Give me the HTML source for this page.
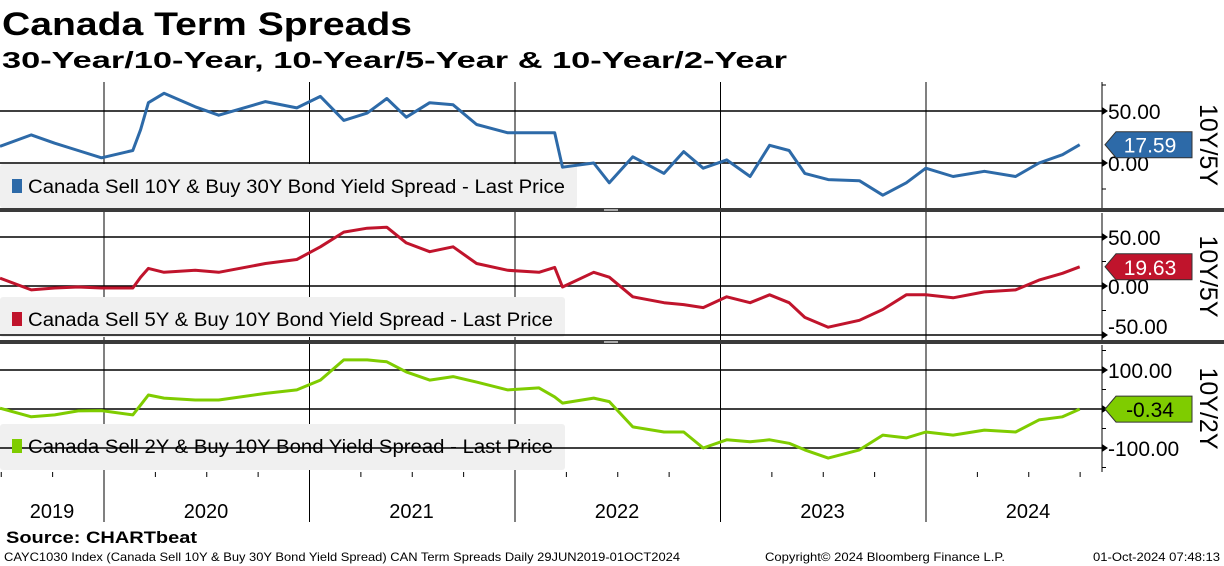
<!DOCTYPE html>
<html><head><meta charset="utf-8"><style>
body{margin:0;background:#fff;width:1224px;height:566px;overflow:hidden}
svg{display:block;font-family:"Liberation Sans",sans-serif}
</style></head><body>
<svg id="chart" width="1224" height="566" viewBox="0 0 1224 566">
<text x="2" y="35" font-size="32" font-weight="bold" textLength="410" lengthAdjust="spacingAndGlyphs">Canada Term Spreads</text>
<text x="2" y="68" font-size="23" font-weight="bold" textLength="785" lengthAdjust="spacingAndGlyphs">30-Year/10-Year, 10-Year/5-Year &amp; 10-Year/2-Year</text>
<g id="plots"></g>
<text x="6" y="543" font-size="17" font-weight="bold" textLength="191" lengthAdjust="spacingAndGlyphs">Source: CHARTbeat</text>
<text x="4" y="561" font-size="12" textLength="676" lengthAdjust="spacingAndGlyphs">CAYC1030 Index (Canada Sell 10Y &amp; Buy 30Y Bond Yield Spread) CAN Term Spreads  Daily 29JUN2019-01OCT2024</text>
<text x="765" y="561" font-size="12" textLength="240" lengthAdjust="spacingAndGlyphs">Copyright© 2024 Bloomberg Finance L.P.</text>
<text x="1093" y="561" font-size="12" textLength="127" lengthAdjust="spacingAndGlyphs">01-Oct-2024 07:48:13</text>
</svg>
<script>
const dates=[2019.494,2019.646,2019.760,2019.874,2019.988,2020.140,2020.178,2020.216,2020.292,2020.444,2020.558,2020.786,2020.938,2021.053,2021.167,2021.281,2021.376,2021.471,2021.585,2021.699,2021.813,2021.965,2022.117,2022.193,2022.231,2022.383,2022.459,2022.573,2022.725,2022.821,2022.916,2023.030,2023.144,2023.239,2023.334,2023.410,2023.524,2023.676,2023.790,2023.904,2023.999,2024.132,2024.284,2024.436,2024.550,2024.664,2024.748];
const s30y10=[16,27,19,12,5,12,32,58,67,54,46,59,53,64,41,48,62,44,58,56,37,29,29,29,-4,0,-19,6,-10,11,-5,3,-13,17,12,-10,-16,-17,-31,-19,-5,-13,-8,-13,0,8,17.59];
const s10y5=[8,-4,-2,-1,-2,-2,9,18,14,16,14,23,27,40,55,59,60,44,35,40,23,16,14,19,-1,14,9,-11,-17,-19,-22,-11,-17,-9,-17,-32,-42,-35,-24,-9,-9,-12,-6,-4,6,13,19.63];
const s10y2=[2,-20,-15,-5,-4,-15,10,36,28,23,23,40,49,74,126,126,121,95,74,83,69,49,54,31,15,28,19,-46,-59,-59,-100,-79,-84,-79,-88,-105,-126,-105,-67,-74,-59,-67,-54,-59,-28,-20,-0.34];
const years=["2019","2020","2021","2022","2023","2024"];
const panels=[
 {name:"30y-10y",data:s30y10,color:"#2d6aa8",top:82,bot:208,v0:0,y0:163,pp:52/50,grid:[50,0],labels:["50.00","0.00"],minor:[75,-25],axis:"10Y/5Y",legend:"Canada Sell 10Y & Buy 30Y Bond Yield Spread - Last Price",lb:[164,208,577],tag:"17.59",tc:"#fff"},
 {name:"10y-5y",data:s10y5,color:"#c0142c",top:213,bot:340,v0:0,y0:286,pp:49/50,grid:[50,0,-50],labels:["50.00","0.00","-50.00"],minor:[25,-25],axis:"10Y/5Y",legend:"Canada Sell 5Y & Buy 10Y Bond Yield Spread - Last Price",lb:[297,337,565],tag:"19.63",tc:"#fff"},
 {name:"10y-2y",data:s10y2,color:"#7fcc00",top:345,bot:472,v0:0,y0:409,pp:39/100,grid:[100,0,-100],labels:["100.00","","-100.00"],minor:[150,50,-50,-150],axis:"10Y/2Y",legend:"Canada Sell 2Y & Buy 10Y Bond Yield Spread - Last Price",lb:[424,470,565],tag:"-0.34",tc:"#000"}
];
const NS="http://www.w3.org/2000/svg";
const g=document.getElementById('plots');
const X=d=>104+(d-2020)*205.5;
const AX=1102;
function mk(t,a,p){const e=document.createElementNS(NS,t);for(const k in a)e.setAttribute(k,a[k]);(p||g).appendChild(e);return e;}
years.forEach((y,i)=>{const yr=2019+i;
 if(i>0){const l=mk('line',{x1:X(yr),x2:X(yr),y1:82,y2:522,stroke:'#000','stroke-width':1});
 
 }
 const cx=i==0?52:X(yr)+102;
 const t=mk('text',{x:cx,y:518,'font-size':20,'text-anchor':'middle'});t.textContent=y;
 
 
});
for(let q=2019.5;q<2024.9;q+=0.25){mk('line',{x1:X(q),x2:X(q),y1:472,y2:477,stroke:'#000'});}
panels.forEach((p,pi)=>{
 const Y=v=>p.y0-(v-p.v0)*p.pp;
 const pg=mk('g',{});
 
 
 const lb=mk('rect',{x:0,y:p.lb[0],width:p.lb[2],height:p.lb[1]-p.lb[0],fill:'#f0f0f0',rx:3},pg);
 
 
 p.grid.forEach((v,i)=>{
  mk('line',{x1:0,x2:AX,y1:Y(v),y2:Y(v),stroke:'#000','stroke-width':1.5},pg);
  mk('path',{d:`M${AX} ${Y(v)-4}L${AX+6} ${Y(v)}L${AX} ${Y(v)+4}Z`,fill:'#000'},pg);
  if(p.labels[i]){const ly=Math.min(Y(v)+8,p.bot-6);const t=mk('text',{x:AX+6,y:ly,'font-size':21},pg);t.textContent=p.labels[i];
  
  }
 });
 p.minor.forEach(v=>{if(Y(v)>p.top&&Y(v)<p.bot)mk('line',{x1:AX,x2:AX+4,y1:Y(v),y2:Y(v),stroke:'#000'},pg);});
 mk('line',{x1:AX,x2:AX,y1:p.top,y2:p.bot,stroke:'#000'},pg);
 mk('rect',{x:12,y:p.lb[0]+15,width:10,height:14,fill:p.color},pg);
 const lt=mk('text',{x:28,y:p.lb[0]+29,'font-size':19,textLength:p.lb[2]-40,lengthAdjust:'spacingAndGlyphs'},pg);
 lt.textContent=p.legend;
 
 
 const d=p.data.map((v,i)=>(i?'L':'M')+X(dates[i]).toFixed(1)+' '+Y(v).toFixed(1)).join('');
 const ln=mk('path',{d:d,fill:'none',stroke:p.color,'stroke-width':3,'stroke-linejoin':'round'},pg);
 
 
 const lv=p.data[p.data.length-1],ty=Y(lv);
 const tg=mk('path',{d:`M${AX+3} ${ty}L${AX+14} ${ty-13}H1192V${ty+13}H${AX+14}Z`,fill:p.color,stroke:'#333'},pg);
 
 
 const tt=mk('text',{x:1150,y:ty+8,'font-size':21,'text-anchor':'middle',fill:p.tc},pg);tt.textContent=p.tag;
 const at=mk('text',{x:1200,y:(p.top+p.bot)/2,'font-size':25,'text-anchor':'middle',transform:`rotate(90 1200 ${(p.top+p.bot)/2})`},pg);
 at.textContent=p.axis;
 
 
 if(pi<2){const sy=p.bot;const s=mk('rect',{x:0,y:sy,width:1224,height:4,fill:'#3a3a3a'},pg);
  
  
  mk('rect',{x:604,y:sy+1,width:14,height:2,fill:'#aaa'},pg);}
});
</script>
</body></html>
